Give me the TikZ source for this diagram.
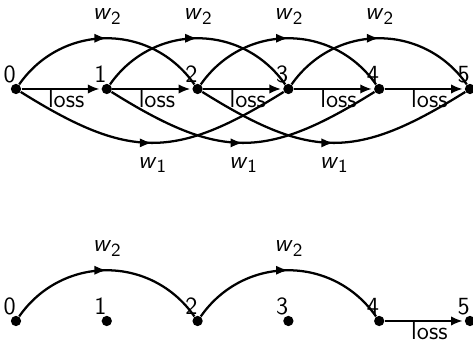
\documentclass[tikz,border=0pt]{standalone}
\usetikzlibrary{arrows.meta, decorations.markings}

\newcommand{\wlab}[1]{\textit{w}\raisebox{-0.45ex}{\small #1}}

\begin{document}
\begin{tikzpicture}[
    x=1.55cm, y=1.55cm,
    font=\sffamily\fontsize{12}{14}\selectfont,
    >={Latex[length=5.5pt,width=4.5pt]}, % Set default arrow tip style
    dot/.style={circle, fill, inner sep=0pt, minimum size=5pt}, % Stage points
    numlab/.style={inner sep=1pt, xshift=3pt}, % Numbers over the points
    lossedge/.style={->, line width=0.6pt, shorten >=1pt}, % Straight loss steps
    losslab/.style={pos=0.56, below, inner sep=0.5pt}, % Text under a loss step
    jump/.style={line width=1.1pt, postaction={decorate}, decoration={markings,
        mark=at position 0.5 with {\arrow{Latex[length=6pt,width=4.5pt]}}}}, % Curved jumps
    hop/.style={jump, out=55, in=125, looseness=1.1}, % Two steps, over the top
    dive/.style={jump, out=-32, in=-148, looseness=1.25} % Three steps, under
]
    \useasboundingbox (-0.176,-2.764) rectangle (5.033,0.98);

%    ############# TOP ROW
    \node[dot, label={[numlab]above left:0}] (t0) at (0,0) {};
    \node[dot, label={[numlab]above left:1}] (t1) at (1,0) {};
    \node[dot, label={[numlab]above left:2}] (t2) at (2,0) {};
    \node[dot, label={[numlab]above left:3}] (t3) at (3,0) {};
    \node[dot, label={[numlab]above left:4}] (t4) at (4,0) {};
    \node[dot, label={[numlab]above left:5}] (t5) at (5,0) {};

    % Loss steps
    \draw[lossedge] (t0) -- node[losslab] {loss} (t1);
    \draw[lossedge] (t1) -- node[losslab] {loss} (t2);
    \draw[lossedge] (t2) -- node[losslab] {loss} (t3);
    \draw[lossedge] (t3) -- node[losslab] {loss} (t4);
    \draw[lossedge] (t4) -- node[losslab] {loss} (t5);

    % w2 jumps over the top
    \draw[hop] (t0) to node[above=3pt] {\wlab{2}} (t2);
    \draw[hop] (t1) to node[above=3pt] {\wlab{2}} (t3);
    \draw[hop] (t2) to node[above=3pt] {\wlab{2}} (t4);
    \draw[hop] (t3) to node[above=3pt] {\wlab{2}} (t5);

    % w1 jumps underneath
    \draw[dive] (t0) to node[below=3pt] {\wlab{1}} (t3);
    \draw[dive] (t1) to node[below=3pt] {\wlab{1}} (t4);
    \draw[dive] (t2) to node[below=3pt] {\wlab{1}} (t5);

%    ############# BOTTOM ROW
    \node[dot, label={[numlab]above left:0}] (b0) at (0,-2.555) {};
    \node[dot, label={[numlab]above left:1}] (b1) at (1,-2.555) {};
    \node[dot, label={[numlab]above left:2}] (b2) at (2,-2.555) {};
    \node[dot, label={[numlab]above left:3}] (b3) at (3,-2.555) {};
    \node[dot, label={[numlab]above left:4}] (b4) at (4,-2.555) {};
    \node[dot, label={[numlab]above left:5}] (b5) at (5,-2.555) {};

    \draw[hop] (b0) to node[above=3pt] {\wlab{2}} (b2);
    \draw[hop] (b2) to node[above=3pt] {\wlab{2}} (b4);
    \draw[lossedge] (b4) -- node[losslab] {loss} (b5);

\end{tikzpicture}
\end{document}
